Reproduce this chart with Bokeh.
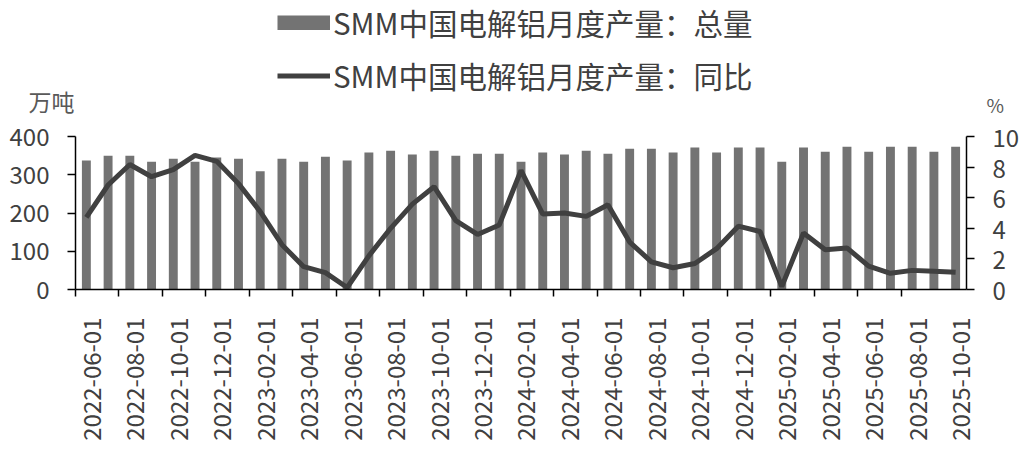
import math
from bokeh.plotting import figure
from bokeh.layouts import column
from bokeh.models import (ColumnDataSource, Range1d, LinearAxis, FixedTicker, Legend, LegendItem)
from bokeh.embed import file_html
from bokeh.resources import INLINE

months = ["2022-06-01", "2022-07-01", "2022-08-01", "2022-09-01", "2022-10-01", "2022-11-01",
          "2022-12-01", "2023-01-01", "2023-02-01", "2023-03-01", "2023-04-01", "2023-05-01",
          "2023-06-01", "2023-07-01", "2023-08-01", "2023-09-01", "2023-10-01", "2023-11-01",
          "2023-12-01", "2024-01-01", "2024-02-01", "2024-03-01", "2024-04-01", "2024-05-01",
          "2024-06-01", "2024-07-01", "2024-08-01", "2024-09-01", "2024-10-01", "2024-11-01",
          "2024-12-01", "2025-01-01", "2025-02-01", "2025-03-01", "2025-04-01", "2025-05-01",
          "2025-06-01", "2025-07-01", "2025-08-01", "2025-09-01", "2025-10-01"]
total = [337, 350, 350, 334, 342, 334, 345, 342, 309, 342,
         334, 347, 337, 358, 363, 353, 363, 350, 355, 355,
         334, 358, 353, 363, 355, 368, 368, 358, 371, 358,
         371, 371, 334, 371, 360, 373, 360, 373, 373, 360, 373]
yoy = [4.72, 6.83, 8.17, 7.37, 7.84, 8.77, 8.38, 6.92, 5.09, 2.93,
       1.49, 1.10, 0.13, 2.2, 4.0, 5.58, 6.72, 4.5, 3.6, 4.22,
       7.78, 4.93, 5.0, 4.78, 5.54, 3.1, 1.81, 1.42, 1.7, 2.67,
       4.14, 3.79, 0.19, 3.69, 2.6, 2.72, 1.53, 1.06, 1.25, 1.19, 1.12]
left_ticks = [0, 100, 200, 300, 400]
right_ticks = [0, 2, 4, 6, 8, 10]
name_total = "SMM中国电解铝月度产量：总量"
name_yoy = "SMM中国电解铝月度产量：同比"
unit_left = "万吨"
unit_right = "%"

FONT = "Noto Sans CJK SC"
TXT = "#404040"
UNIT = "#595959"
BAR = "#737373"
LINE = "#404040"
W = 1022
TOP_H = 118
FRAME_L = 75
FRAME_R = 54
FRAME_W = W - FRAME_L - FRAME_R


def bare_axis(ax):
    ax.axis_line_color = None
    ax.major_tick_line_color = None
    ax.minor_tick_line_color = None
    ax.major_tick_out = 0
    ax.major_tick_in = 0


# ---------- header: legend and unit captions (frame aligned with the chart below) ----------
top = figure(width=W, height=TOP_H, output_backend="svg", toolbar_location=None,
             x_range=Range1d(0, FRAME_W), y_range=Range1d(0, TOP_H),
             x_axis_location=None, y_axis_location="left",
             min_border_left=FRAME_L, min_border_right=FRAME_R, min_border_top=0, min_border_bottom=0)
top.outline_line_color = None
top.xgrid.visible = False
top.ygrid.visible = False

ul = top.yaxis[0]
ul.ticker = FixedTicker(ticks=[TOP_H - 102])
ul.major_label_overrides = {TOP_H - 102: unit_left}
bare_axis(ul)
ul.major_label_standoff = 1
ul.major_label_text_font = FONT
ul.major_label_text_font_size = "23px"
ul.major_label_text_color = UNIT

ur = LinearAxis(ticker=FixedTicker(ticks=[TOP_H - 104]))
ur.major_label_overrides = {TOP_H - 104: unit_right}
bare_axis(ur)
ur.major_label_standoff = 20
ur.major_label_text_font = FONT
ur.major_label_text_font_size = "19px"
ur.major_label_text_color = UNIT
top.add_layout(ur, "right")

nan = float("nan")
sw_bar = top.line(x=[nan], y=[nan], line_color=BAR, line_width=15, line_cap="butt")
sw_line = top.line(x=[nan], y=[nan], line_color=LINE, line_width=5, line_cap="butt")
legend = Legend(items=[LegendItem(label=name_total, renderers=[sw_bar]),
                       LegendItem(label=name_yoy, renderers=[sw_line])],
                location=(202, 22), orientation="vertical",
                glyph_width=53, glyph_height=15, label_height=27, spacing=11,
                label_standoff=3, padding=0, margin=0,
                border_line_color=None, background_fill_alpha=0,
                label_text_font=FONT, label_text_font_size="29.5px", label_text_color=TXT)
top.add_layout(legend, "center")

# ---------- main chart ----------
idx = list(range(len(months)))
src = ColumnDataSource(dict(x=idx, month=months, total=total, yoy=yoy))

p = figure(width=W, height=325, output_backend="svg", toolbar_location=None,
           x_range=Range1d(-0.5, len(months) - 0.5), y_range=Range1d(0, 400),
           min_border_left=FRAME_L, min_border_right=FRAME_R, min_border_top=18, min_border_bottom=152)
p.extra_y_ranges = {"yoy": Range1d(0, 10)}
p.outline_line_color = None
p.xgrid.visible = False
p.ygrid.visible = False

p.vbar(x="x", top="total", width=0.41, source=src, fill_color=BAR, line_color=None)
p.line(x="x", y="yoy", source=src, y_range_name="yoy", line_color=LINE, line_width=5)

xa = p.xaxis[0]
even = idx[::2]
LABEL_SHIFT = 0.25  # rotated labels sit slightly right of their category centre
xa.ticker = FixedTicker(ticks=[i + LABEL_SHIFT for i in even],
                        minor_ticks=[i - 0.5 for i in even if i < len(months) - 1])
xa.major_label_overrides = {i + LABEL_SHIFT: months[i] for i in even}
xa.major_label_orientation = math.pi / 2
xa.major_tick_out = 0
xa.major_tick_in = 0
xa.major_tick_line_color = None
xa.minor_tick_out = 7
xa.minor_tick_in = 0
xa.minor_tick_line_color = "black"
xa.minor_tick_line_width = 1.5
xa.axis_line_color = "black"
xa.axis_line_width = 1.5
xa.major_label_text_font = FONT
xa.major_label_text_font_size = "24px"
xa.major_label_text_color = TXT
xa.major_label_standoff = 21

ya = p.yaxis[0]
ya.ticker = FixedTicker(ticks=left_ticks)
ya.major_tick_out = 8
ya.major_tick_in = 0
ya.minor_tick_line_color = None
ya.major_tick_line_color = "black"
ya.major_tick_line_width = 1.5
ya.axis_line_color = "black"
ya.axis_line_width = 1.5
ya.major_label_text_font = FONT
ya.major_label_text_font_size = "24px"
ya.major_label_text_color = TXT
ya.major_label_standoff = 18

# right axis: single digits padded with a figure space so every label has the same width
# and they line up on the left like the reference
ra = LinearAxis(y_range_name="yoy", ticker=FixedTicker(ticks=right_ticks))
ra.major_label_overrides = {t: (str(t) if t >= 10 else str(t) + "\u2007") for t in right_ticks}
ra.major_tick_out = 8
ra.major_tick_in = 0
ra.minor_tick_line_color = None
ra.major_tick_line_color = "black"
ra.major_tick_line_width = 1.5
ra.axis_line_color = "black"
ra.axis_line_width = 1.5
ra.major_label_text_font = FONT
ra.major_label_text_font_size = "24px"
ra.major_label_text_color = TXT
ra.major_label_standoff = 18
p.add_layout(ra, "right")

layout = column(top, p, spacing=0)
open("out.html", "w").write(file_html(layout, INLINE))
